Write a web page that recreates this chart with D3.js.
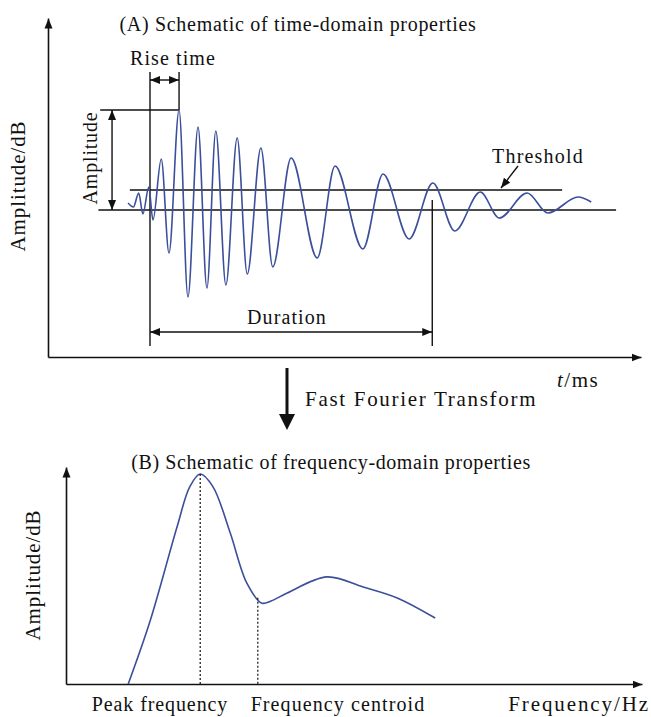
<!DOCTYPE html>
<html>
<head>
<meta charset="utf-8">
<script src="https://cdn.jsdelivr.net/npm/d3@7"></script>
<style>
  body { margin: 0; background: #fff; }
  text { font-family: "Liberation Serif", "Times New Roman", serif; fill: #111; }
</style>
</head>
<body>
<div id="chart"></div>
<script>
// time-domain waveform: extremum points (t in ms, amplitude normalised)
const waveT = [13.5, 14.4, 15.3, 16.0, 17.0, 17.7, 19.1, 20.4, 22.1, 23.6, 25.3, 26.8, 28.3, 30.0,
    31.9, 33.6, 35.9, 37.9, 41.0, 45.4, 48.4, 53.1, 56.5, 60.9, 64.9, 68.6, 72.9, 76.1, 80.8, 84.3, 89.4, 91.6];
const waveA = [0.07, 0.03, 0.17, -0.04, 0.23, -0.10, 0.51, -0.43, 1.00, -0.87, 0.83, -0.78, 0.79, -0.75,
    0.72, -0.64, 0.62, -0.57, 0.52, -0.48, 0.44, -0.39, 0.36, -0.29, 0.27, -0.21, 0.18, -0.08, 0.17, -0.03, 0.13, 0.08];

const threshold = 0.2;
const riseStart = 17.2, peakTime = 22.1, durationEnd = 64.8;

// frequency-domain spectrum
const specF = [10.8, 14.6, 19.3, 21.5, 23.3, 25.5, 28.5, 31.4, 34.0, 35.6, 38.4, 45.3, 51.6, 57.5, 64.1];
const specA = [0.00, 0.30, 0.75, 0.94, 1.00, 0.94, 0.72, 0.48, 0.385, 0.395, 0.433, 0.51, 0.462, 0.41, 0.314];
const peakFreq = 23.3, centroidFreq = 33.3;

const labels = {
    titleA: "(A) Schematic of time-domain properties",
    titleB: "(B) Schematic of frequency-domain properties",
    yLabel: "Amplitude/dB",
    fft: "Fast Fourier Transform"
};

const W = 651, H = 717;
const blue = "#3b4f9a", ink = "#111";

const svg = d3.select("#chart").append("svg")
    .attr("width", W).attr("height", H);

const defs = svg.append("defs");
defs.append("marker").attr("id", "arr")
    .attr("viewBox", "0 0 10 10").attr("refX", 10).attr("refY", 5)
    .attr("markerWidth", 10).attr("markerHeight", 10).attr("markerUnits", "userSpaceOnUse")
    .attr("orient", "auto-start-reverse")
    .append("path").attr("d", "M0,1 L10,5 L0,9 Z").attr("fill", ink);

const label = (g, x, y, txt, size, ls, anchor, rot) => g.append("text")
    .attr("transform", `translate(${x},${y})` + (rot ? " rotate(-90)" : ""))
    .attr("text-anchor", anchor || "middle")
    .attr("font-size", size).attr("letter-spacing", ls)
    .text(txt);

// ---------- panel A ----------
const xT = d3.scaleLinear().domain([0, 100]).range([48, 641]);
const yT = d3.scaleLinear().domain([-1, 1]).range([310, 110]);
const yAxisA = d3.scaleLinear().domain([0, 1]).range([357, 18]);

const gA = svg.append("g");

// axes (no ticks)
gA.append("g").attr("transform", "translate(0,357)")
    .call(d3.axisBottom(xT).tickValues([]).tickSizeOuter(0))
    .select(".domain").attr("stroke", ink).attr("stroke-width", 1.6).attr("marker-end", "url(#arr)");
gA.append("g").attr("transform", "translate(48,0)")
    .call(d3.axisLeft(yAxisA).tickValues([]).tickSizeOuter(0))
    .select(".domain").attr("stroke", ink).attr("stroke-width", 1.6).attr("marker-end", "url(#arr)");

const line = (x1, y1, x2, y2, g) => (g || gA).append("line")
    .attr("x1", x1).attr("y1", y1).attr("x2", x2).attr("y2", y2)
    .attr("stroke", ink).attr("stroke-width", 1.4);

// zero line, threshold line
line(xT(8.5), yT(0), xT(95.8), yT(0));
line(xT(13.8), yT(threshold), xT(86.7), yT(threshold));

// rise time guides
line(xT(riseStart), 72, xT(riseStart), 346);
line(xT(peakTime), 72, xT(peakTime), yT(1));
line(xT(8.8), yT(1), xT(peakTime), yT(1));
line(xT(riseStart), 80, xT(peakTime), 80)
    .attr("marker-start", "url(#arr)").attr("marker-end", "url(#arr)");

// amplitude arrow
line(xT(10.8), yT(1), xT(10.8), yT(0))
    .attr("marker-start", "url(#arr)").attr("marker-end", "url(#arr)");

// duration
line(xT(durationEnd), yT(threshold) + 10, xT(durationEnd), 346);
line(xT(riseStart), 332, xT(durationEnd), 332)
    .attr("marker-start", "url(#arr)").attr("marker-end", "url(#arr)");

// threshold pointer
line(518, 166, 501, 188).attr("marker-end", "url(#arr)");

// waveform
gA.append("path")
    .datum(waveT.map((t, i) => [t, waveA[i]]))
    .attr("fill", "none").attr("stroke", blue).attr("stroke-width", 1.6)
    .attr("d", d3.line().x(d => xT(d[0])).y(d => yT(d[1])).curve(d3.curveMonotoneX));

// texts
label(gA, 298, 31, labels.titleA, 20, 0.7);
label(gA, 173, 65, "Rise time", 20, 1.1);
label(gA, 97, 158, "Amplitude", 20, 0.8, "middle", true);
label(gA, 538, 163, "Threshold", 20, 1.2);
label(gA, 287, 324, "Duration", 20, 1.1);
label(gA, 25, 186, labels.yLabel, 21, 0.9, "middle", true);
const tl = gA.append("text").attr("x", 557).attr("y", 387).attr("font-size", 21).attr("letter-spacing", 1.5);
tl.append("tspan").attr("font-style", "italic").text("t");
tl.append("tspan").text("/ms");

// FFT arrow
svg.append("line").attr("x1", 287).attr("y1", 368).attr("x2", 287).attr("y2", 416)
    .attr("stroke", ink).attr("stroke-width", 3);
svg.append("path").attr("d", "M279,414 L295,414 L287,430 Z").attr("fill", ink);
label(svg, 305, 406, labels.fft, 21, 1.7, "start");

// ---------- panel B ----------
const xF = d3.scaleLinear().domain([0, 100]).range([66, 642]);
const yF = d3.scaleLinear().domain([0, 1]).range([684, 474]);
const yAxisB = d3.scaleLinear().domain([0, 1]).range([684, 467]);

const gB = svg.append("g");
gB.append("g").attr("transform", "translate(0,684)")
    .call(d3.axisBottom(xF).tickValues([]).tickSizeOuter(0))
    .select(".domain").attr("stroke", ink).attr("stroke-width", 1.6).attr("marker-end", "url(#arr)");
gB.append("g").attr("transform", "translate(66,0)")
    .call(d3.axisLeft(yAxisB).tickValues([]).tickSizeOuter(0))
    .select(".domain").attr("stroke", ink).attr("stroke-width", 1.6).attr("marker-end", "url(#arr)");

const spec = specF.map((f, i) => [f, specA[i]]);
gB.append("path").datum(spec)
    .attr("fill", "none").attr("stroke", blue).attr("stroke-width", 1.6)
    .attr("d", d3.line().x(d => xF(d[0])).y(d => yF(d[1])).curve(d3.curveCatmullRom.alpha(0.5)));

// dotted guides
const specAt = f => {
    let i = d3.bisector(d => d[0]).left(spec, f);
    i = Math.max(1, Math.min(spec.length - 1, i));
    const a = spec[i - 1], b = spec[i];
    return a[1] + (b[1] - a[1]) * (f - a[0]) / (b[0] - a[0]);
};
[peakFreq, centroidFreq].forEach(f => {
    gB.append("line").attr("x1", xF(f)).attr("x2", xF(f))
        .attr("y1", yF(specAt(f))).attr("y2", 684)
        .attr("stroke", ink).attr("stroke-width", 1.2).attr("stroke-dasharray", "2,2");
});

label(gB, 331, 469, labels.titleB, 20, 0.6);
label(gB, 40, 575, labels.yLabel, 21, 0.9, "middle", true);
label(gB, 160, 711, "Peak frequency", 20, 0.9);
label(gB, 338, 711, "Frequency centroid", 20, 1.1);
label(gB, 650, 711, "Frequency/Hz", 21, 1.9, "end");
</script>
</body>
</html>
